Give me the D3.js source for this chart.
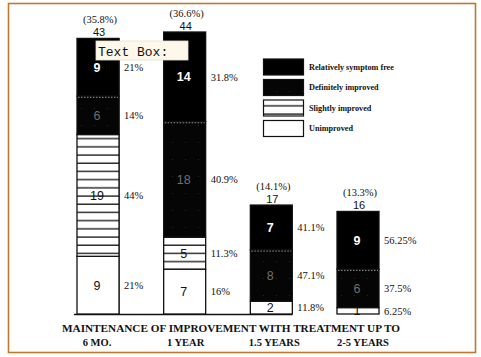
<!DOCTYPE html>
<html><head><meta charset="utf-8">
<script src="https://cdn.jsdelivr.net/npm/d3@7"></script>
<style>html,body{margin:0;padding:0;background:#fff;}svg{display:block;}</style>
</head><body>
<script>
const categories = ["6 MO.", "1 YEAR", "1.5 YEARS", "2-5 YEARS"];
const seriesNames = ["Unimproved", "Slightly improved", "Definitely improved", "Relatively symptom free"];
const unimproved = [9, 7, 2, 1];
const slightly = [19, 5, 0, 0];
const definitely = [6, 18, 8, 6];
const symptomFree = [9, 14, 7, 9];
const totals = [43, 44, 17, 16];
const totalPct = ["(35.8%)", "(36.6%)", "(14.1%)", "(13.3%)"];
const pctUnimproved = ["21%", "16%", "11.8%", "6.25%"];
const pctSlightly = ["44%", "11.3%", "", ""];
const pctDefinitely = ["14%", "40.9%", "47.1%", "37.5%"];
const pctSymptomFree = ["21%", "31.8%", "41.1%", "56.25%"];
const legendOrder = ["Relatively symptom free", "Definitely improved", "Slightly improved", "Unimproved"];
const legendLabels = ["Relatively symptom free", "Definitely improved", "Slightly improved", "Unimproved"];
const xTitle = "MAINTENANCE OF IMPROVEMENT WITH TREATMENT UP TO";

const W = 481, H = 357;
const svg = d3.select("body").append("svg").attr("width", W).attr("height", H);
const defs = svg.append("defs");
const stripe = defs.append("pattern").attr("id", "stripe").attr("patternUnits", "userSpaceOnUse")
  .attr("width", 8).attr("height", 8.2);
stripe.append("rect").attr("width", 8).attr("height", 8.2).attr("fill", "#fff");
stripe.append("rect").attr("y", 6.8).attr("width", 8).attr("height", 1.3).attr("fill", "#111");
const speck = defs.append("pattern").attr("id", "speck").attr("patternUnits", "userSpaceOnUse")
  .attr("width", 13).attr("height", 17);
speck.append("rect").attr("width", 13).attr("height", 17).attr("fill", "#050505");
speck.append("rect").attr("x", 3).attr("y", 6).attr("width", 1).attr("height", 1).attr("fill", "#262626");

// frame
svg.append("rect").attr("x", 8.5).attr("y", 3.5).attr("width", 467).attr("height", 349)
  .attr("fill", "none").attr("stroke", "#c0782e").attr("stroke-width", 1.6);

const x = d3.scalePoint().domain(categories).range([98, 358]);
const xl = d3.scalePoint().domain(categories).range([97, 363]);
const y = d3.scaleLinear().domain([0, 44]).range([314, 32]);
const bw = 42;

const rows = categories.map((c, i) => ({
  cat: c, "Unimproved": unimproved[i], "Slightly improved": slightly[i],
  "Definitely improved": definitely[i], "Relatively symptom free": symptomFree[i]
}));
const pctMap = {"Unimproved": pctUnimproved, "Slightly improved": pctSlightly,
  "Definitely improved": pctDefinitely, "Relatively symptom free": pctSymptomFree};
const fillMap = {"Unimproved": "#fff", "Slightly improved": "url(#stripe)",
  "Definitely improved": "url(#speck)", "Relatively symptom free": "#000"};
const labelColor = {"Unimproved": "#111", "Slightly improved": "#111",
  "Definitely improved": "#6f6f6f", "Relatively symptom free": "#fff"};

const stack = d3.stack().keys(seriesNames)(rows);

// baseline
svg.append("line").attr("x1", 74).attr("x2", x(categories[2]) + bw / 2)
  .attr("y1", y(0) + 0.5).attr("y2", y(0) + 0.5).attr("stroke", "#111").attr("stroke-width", 1.5);
// phantom white column next to first bar
svg.append("line").attr("x1", x(categories[0]) + bw / 2).attr("x2", x(categories[0]) + bw / 2)
  .attr("y1", y(totals[0])).attr("y2", y(0)).attr("stroke", "#111").attr("stroke-width", 1.2);

stack.forEach(layer => {
  const key = layer.key;
  const g = svg.append("g");
  layer.forEach((d, i) => {
    const v = d[1] - d[0];
    if (v <= 0) return;
    const cx = x(d.data.cat);
    const y0 = y(d[0]), y1 = y(d[1]);
    g.append("rect").attr("x", cx - bw / 2).attr("y", y1).attr("width", bw).attr("height", y0 - y1)
      .attr("fill", fillMap[key]).attr("stroke", "#111").attr("stroke-width", 1.3);
    if (key === "Definitely improved") {
      g.append("line").attr("x1", cx - bw / 2 + 1).attr("x2", cx + bw / 2 - 1)
        .attr("y1", y1 + 1).attr("y2", y1 + 1).attr("stroke", "#ccc")
        .attr("stroke-width", 1).attr("stroke-dasharray", "1.5,1.5");
    }
    const my = (y0 + y1) / 2;
    g.append("text").attr("x", cx - 1).attr("y", my).attr("dy", "0.36em")
      .attr("text-anchor", "middle").attr("font-family", "Liberation Sans, Arial, sans-serif")
      .attr("font-size", 12.5).attr("font-weight", key === "Relatively symptom free" ? "bold" : "normal")
      .attr("fill", labelColor[key]).text(v);
    const p = pctMap[key][i];
    if (p) {
      g.append("text").attr("x", cx + bw / 2 + 5).attr("y", my).attr("dy", "0.36em")
        .attr("font-family", "'Liberation Serif', 'Times New Roman', serif").attr("font-size", 10.5)
        .attr("fill", "#111").text(p);
    }
  });
});

// totals
categories.forEach((c, i) => {
  const top = y(totals[i]);
  svg.append("text").attr("x", x(c) + 2).attr("y", top - 19).attr("dy", "0.36em").attr("text-anchor", "middle")
    .attr("font-family", "'Liberation Serif', 'Times New Roman', serif").attr("font-size", 10.5)
    .attr("fill", "#111").text(totalPct[i]);
  svg.append("text").attr("x", x(c) + 1).attr("y", top - 6).attr("dy", "0.36em").attr("text-anchor", "middle")
    .attr("font-family", "Liberation Sans, Arial, sans-serif").attr("font-size", 11)
    .attr("fill", "#111").text(totals[i]);
});

// legend
const leg = svg.append("g");
legendOrder.forEach((k, i) => {
  const ly = 59 + i * 20.5;
  leg.append("rect").attr("x", 263.5).attr("y", ly).attr("width", 40).attr("height", 16)
    .attr("fill", fillMap[k]).attr("stroke", "#111").attr("stroke-width", 1.2);
  leg.append("text").attr("x", 309).attr("y", ly + 8).attr("dy", "0.36em")
    .attr("font-family", "'Liberation Serif', 'Times New Roman', serif").attr("font-size", 8.2)
    .attr("font-weight", "bold").attr("fill", "#111").text(legendLabels[i]);
});

// axis title and categories
svg.append("text").attr("x", 62).attr("y", 328).attr("dy", "0.36em")
  .attr("font-family", "'Liberation Serif', 'Times New Roman', serif").attr("font-size", 10.5)
  .attr("font-weight", "bold").attr("fill", "#111")
  .attr("textLength", 338).attr("lengthAdjust", "spacingAndGlyphs").text(xTitle);
categories.forEach(c => {
  svg.append("text").attr("x", xl(c)).attr("y", 342).attr("dy", "0.36em").attr("text-anchor", "middle")
    .attr("font-family", "'Liberation Serif', 'Times New Roman', serif").attr("font-size", 10.5)
    .attr("font-weight", "bold").attr("fill", "#111").text(c);
});

// overlay text box
svg.append("rect").attr("x", 96).attr("y", 41).attr("width", 92).attr("height", 19)
  .attr("fill", "#fdf8ea").attr("stroke", "#e8e0cc").attr("stroke-width", 0.8);
svg.append("text").attr("x", 98).attr("y", 51).attr("dy", "0.36em")
  .attr("font-family", "Liberation Mono, DejaVu Sans Mono, monospace").attr("font-size", 13)
  .attr("fill", "#111").text("Text Box:");
</script>
</body></html>
